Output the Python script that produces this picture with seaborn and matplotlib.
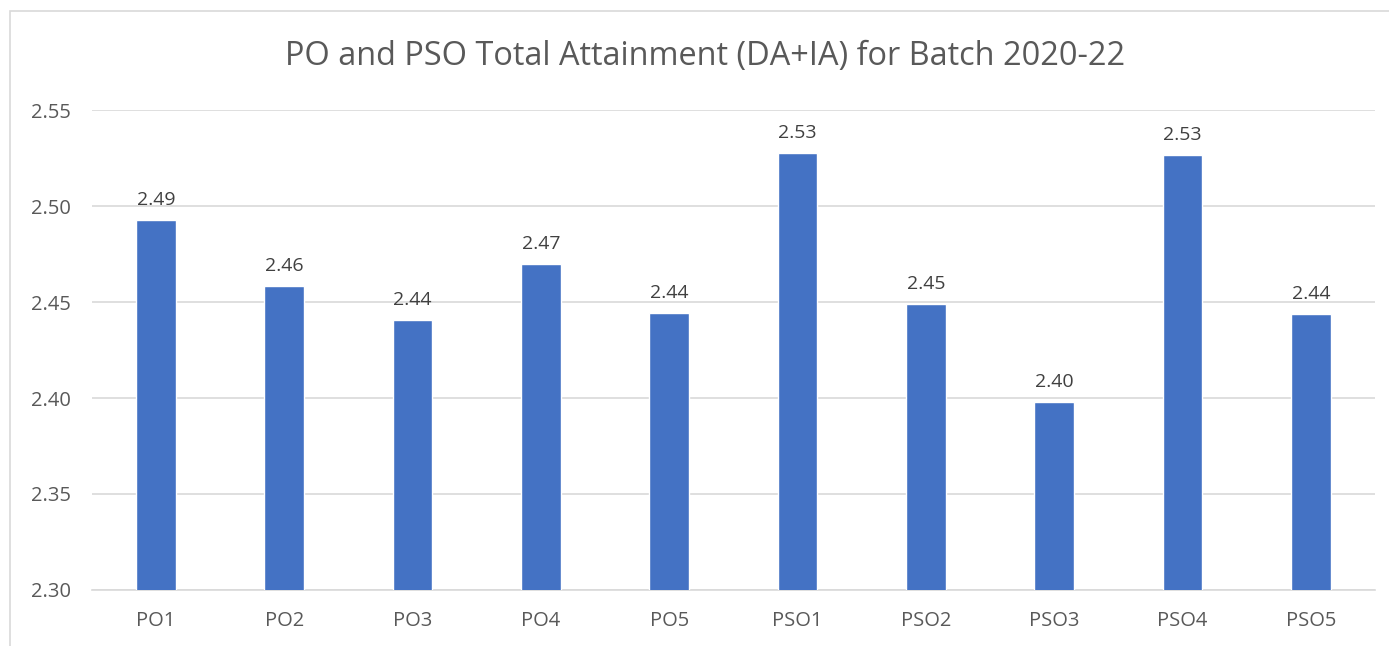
import matplotlib
matplotlib.use('Agg')
import matplotlib.pyplot as plt
import seaborn as sns
import pandas as pd
from matplotlib.patches import Rectangle

categories = ['PO1', 'PO2', 'PO3', 'PO4', 'PO5', 'PSO1', 'PSO2', 'PSO3', 'PSO4', 'PSO5']
attainment = [2.4927, 2.4583, 2.4406, 2.4698, 2.4443, 2.5276, 2.4490, 2.3980, 2.5266, 2.4437]
y_ticks = [2.30, 2.35, 2.40, 2.45, 2.50, 2.55]

df = pd.DataFrame({'Outcome': categories, 'Attainment': attainment})

sns.set_style('white')
plt.rcParams['font.family'] = ['Open Sans', 'DejaVu Sans']
text_color = '#595959'

fig = plt.figure(figsize=(13.89, 6.46), dpi=100)
ax = fig.add_axes([0.066, 0.0867, 0.924, 0.743])

# outer chart frame (Excel style)
fig.patches.append(Rectangle((10 / 1389, -0.1), 1.2, 1 - 11 / 646 + 0.1,
                             transform=fig.transFigure, fill=False,
                             edgecolor='#d9d9d9', linewidth=1.2))

sns.barplot(data=df, x='Outcome', y='Attainment', color='#4472c4',
            width=0.31, saturation=1, ax=ax, zorder=3)

ax.set_ylim(2.30, 2.55)
ax.set_yticks(y_ticks)
ax.set_yticklabels([f'{t:.2f}' for t in y_ticks])
ax.yaxis.grid(True, color='#d9d9d9', linewidth=1.2, zorder=0)
ax.set_axisbelow(True)
for s in ['top', 'right', 'left']:
    ax.spines[s].set_visible(False)
ax.spines['bottom'].set_color('#d9d9d9')
ax.spines['bottom'].set_linewidth(1.2)
ax.tick_params(axis='both', length=0, labelsize=14.5, colors=text_color)
ax.tick_params(axis='y', pad=15)
ax.tick_params(axis='x', pad=15)
ax.set_xlabel('')
ax.set_ylabel('')

for i, v in enumerate(attainment):
    ax.annotate(f'{v:.2f}', (i, v), xytext=(0, 8), textcoords='offset points',
                ha='center', va='bottom', fontsize=14, color='#404040')

fig.text(0.5075, 1 - 57 / 646, 'PO and PSO Total Attainment (DA+IA) for Batch 2020-22',
         ha='center', va='center', fontsize=23.4, color=text_color)

fig.savefig('out.png', dpi=100)
